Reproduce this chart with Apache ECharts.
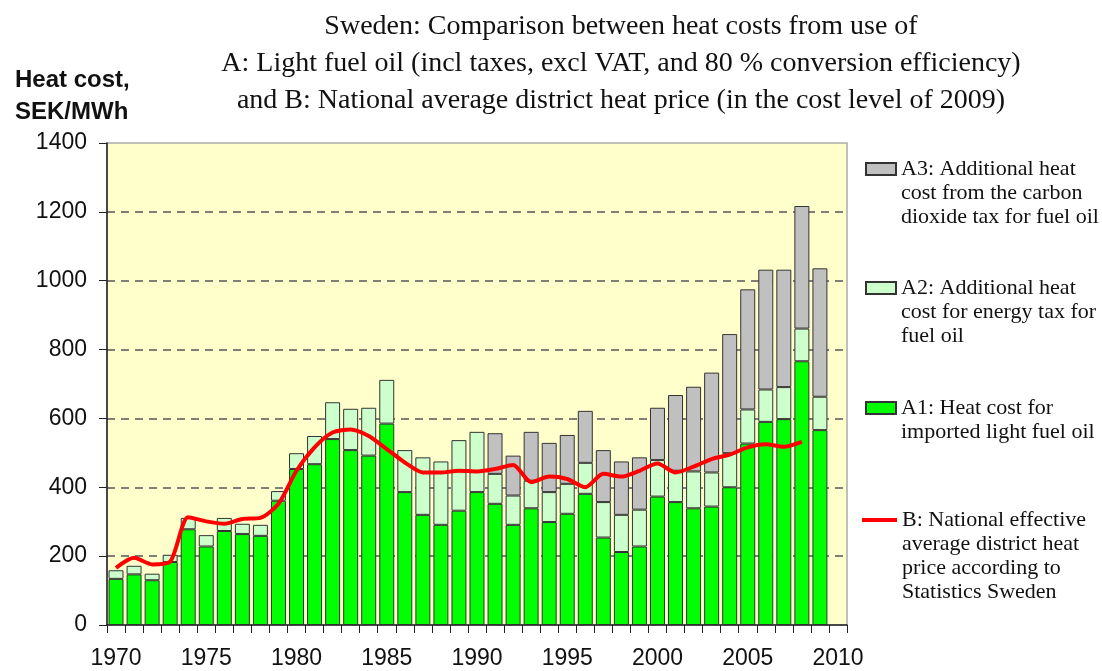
<!DOCTYPE html>
<html>
<head>
<meta charset="utf-8">
<script src="https://cdn.jsdelivr.net/npm/echarts@6/dist/echarts.min.js"></script>
<style>
  html, body { margin: 0; padding: 0; background: #fff; }
  #main { width: 1102px; height: 671px; }
</style>
</head>
<body>
<div id="main"></div>
<script>
// years on the axis (2010 is an empty slot at the end)
var years = ['1970','1971','1972','1973','1974','1975','1976','1977','1978','1979',
             '1980','1981','1982','1983','1984','1985','1986','1987','1988','1989',
             '1990','1991','1992','1993','1994','1995','1996','1997','1998','1999',
             '2000','2001','2002','2003','2004','2005','2006','2007','2008','2009','2010'];

// A1: heat cost for imported light fuel oil
var a1 = [134,147,130,183,278,228,273,264,259,361,
          453,467,540,508,492,585,386,320,291,332,
          386,352,291,339,299,323,381,254,212,228,
          373,357,339,344,400,527,590,598,766,566];

// A2: energy tax
var a2 = [25,25,19,21,33,33,38,30,32,28,
          46,82,107,120,139,127,122,167,184,205,
          175,87,85,80,87,87,90,103,108,107,
          106,91,107,99,99,99,94,93,95,97];

// A3: carbon dioxide tax (from 1991)
var a3 = [null,null,null,null,null,null,null,null,null,null,
          null,null,null,null,null,null,null,null,null,null,
          null,118,116,142,143,142,151,151,155,152,
          152,220,246,290,346,349,348,341,356,373];

// B: national average district heat price
var lineB = [166,195,176,184,313,301,294,308,311,352,
             448,516,559,568,549,511,472,443,443,448,
             446,453,465,415,431,424,400,439,431,448,
             469,443,460,482,495,516,525,518,532];

var nameA3 = 'A3: Additional heat\ncost from the carbon\ndioxide tax for fuel oil';
var nameA2 = 'A2: Additional heat\ncost for energy tax for\nfuel oil';
var nameA1 = 'A1: Heat cost for\nimported light fuel oil';
var nameB = 'B: National effective\naverage district heat\nprice according to\nStatistics Sweden';

var LH = 24;
var legendStyle = {
  fontFamily: 'Liberation Serif',
  fontSize: 22,
  lineHeight: LH,
  color: '#111'
};
// blank lines in front so the first text line sits level with the icon
function pushDown(name) {
  var n = name.split('\n').length;
  return new Array(n).join('\n') + name;
}

var myChart = echarts.init(document.getElementById('main'));

var option = {
  animation: false,
  backgroundColor: '#fff',
  title: [
    {
      text: 'Sweden: Comparison between heat costs from use of\nA: Light fuel oil (incl taxes, excl VAT, and 80 % conversion efficiency)\nand B: National average district heat price (in the cost level of 2009)',
      left: 616,
      top: 3,
      textAlign: 'center',
      textStyle: {
        fontFamily: 'Liberation Serif',
        fontSize: 28,
        fontWeight: 'normal',
        lineHeight: 37,
        color: '#111'
      }
    },
    {
      text: 'Heat cost,\nSEK/MWh',
      left: 10,
      top: 59,
      textStyle: {
        fontFamily: 'Liberation Sans',
        fontSize: 24,
        fontWeight: 'bold',
        lineHeight: 32,
        color: '#111'
      }
    }
  ],
  legend: [
    { data: [nameA3], left: 865, top: 109, padding: 0, icon: 'rect', itemWidth: 30, itemHeight: 12,
      selectedMode: false, formatter: pushDown, textStyle: legendStyle },
    { data: [nameA2], left: 865, top: 228, padding: 0, icon: 'rect', itemWidth: 30, itemHeight: 12,
      selectedMode: false, formatter: pushDown, textStyle: legendStyle },
    { data: [nameA1], left: 865, top: 372, padding: 0, icon: 'rect', itemWidth: 30, itemHeight: 12,
      selectedMode: false, formatter: pushDown, textStyle: legendStyle },
    { data: [nameB], left: 862, top: 436, padding: 0, icon: 'path://M0,0 L35,0 L35,4 L0,4 Z',
      itemWidth: 35, itemHeight: 4, selectedMode: false, formatter: pushDown, textStyle: legendStyle }
  ],
  grid: {
    left: 107,
    right: 255,
    top: 143,
    bottom: 46,
    show: true,
    backgroundColor: '#ffffcc',
    borderColor: '#aaa',
    borderWidth: 1.5
  },
  xAxis: {
    type: 'category',
    data: years,
    boundaryGap: true,
    axisLine: { lineStyle: { color: '#222', width: 1.5 } },
    axisTick: { show: true, interval: 0, length: 8, alignWithLabel: false, lineStyle: { color: '#222' } },
    axisLabel: {
      interval: 4,
      margin: 22,
      fontFamily: 'Liberation Sans',
      fontSize: 23,
      color: '#111'
    },
    splitLine: { show: false }
  },
  yAxis: {
    type: 'value',
    min: 0,
    max: 1400,
    interval: 200,
    axisLine: { show: true, lineStyle: { color: '#222', width: 1.5 } },
    axisTick: { show: true, length: 8, lineStyle: { color: '#222' } },
    axisLabel: {
      margin: 20,
      fontFamily: 'Liberation Sans',
      fontSize: 23,
      color: '#111',
      formatter: function (v) { return String(v); }
    },
    splitLine: {
      show: true,
      showMinLine: false,
      showMaxLine: false,
      lineStyle: { color: '#555', width: 1.5, type: [8, 6] }
    }
  },
  series: [
    {
      name: nameA1,
      type: 'bar',
      stack: 'A',
      data: a1,
      barCategoryGap: '17%',
      itemStyle: { color: '#00ff00', borderColor: '#333', borderWidth: 1 }
    },
    {
      name: nameA2,
      type: 'bar',
      stack: 'A',
      data: a2,
      itemStyle: { color: '#ccffcc', borderColor: '#333', borderWidth: 1 }
    },
    {
      name: nameA3,
      type: 'bar',
      stack: 'A',
      data: a3,
      itemStyle: { color: '#c0c0c0', borderColor: '#333', borderWidth: 1 }
    },
    {
      name: nameB,
      type: 'line',
      data: lineB,
      symbol: 'none',
      smooth: 0.25,
      z: 5,
      lineStyle: { color: '#ff0000', width: 4 },
      itemStyle: { color: '#ff0000' }
    }
  ]
};

myChart.setOption(option);
</script>
</body>
</html>
